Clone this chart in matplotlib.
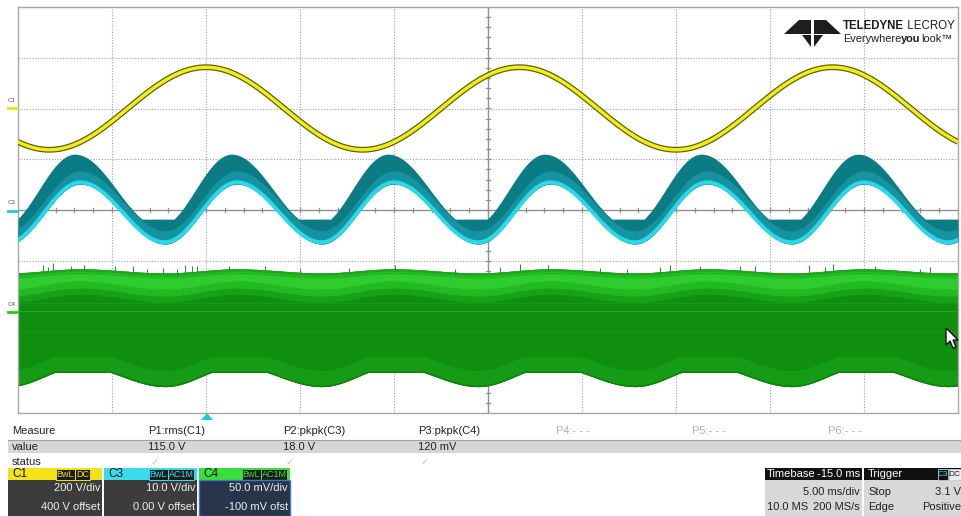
import numpy as np
import matplotlib
matplotlib.use("Agg")
import matplotlib.pyplot as plt
from matplotlib.patches import Rectangle, Polygon

# ---------------- scope settings ----------------
time_per_div_ms = 5.0
trigger_delay_ms = -15.0
n_div_x = 10
n_div_y = 8

# channel settings: C1 (V), C3 (V), C4 (mV)
c1_scale, c1_offset = 200.0, 400.0
c3_scale, c3_offset = 10.0, 0.0
c4_scale, c4_offset = 50.0, -100.0

# C1 : mains voltage
c1_rms_v = 115.0
c1_freq_hz = 60.0
c1_peak_ms = 0.0

# C3 : ripple envelope (V)
c3_freq_hz = 120.0
c3_peak_ms = 1.65
c3_fall_frac = 0.54
c3_lower_mid, c3_lower_amp = -0.8, 5.9
c3_upper_mid, c3_upper_amp = 3.9, 7.1
c3_upper_floor = -1.8
c3_upper_lead_ms = 0.3

# C4 : noise band envelope (mV)
c4_top_mid, c4_top_amp = 40.0, 2.0
c4_bot_mid, c4_bot_amp = -64.3, 9.7
c4_bot_cap = -60.0
c4_light_mid, c4_light_amp = 19.0, 4.0

# spikes on top of the C4 band (ms, mV above the band)
c4_spike_t = [-8.67, -8.4, -8.14, -7.2, -6.5, -4.84, -3.88, -3.14, -2.29, -1.54, -1.12, -0.74,
              -0.48, 1.2, 3.14, 5.0, 7.6, 10.05, 13.24, 15.64, 16.7, 18.19, 20.96, 22.4, 24.15,
              24.68, 26.3, 28.4, 29.2, 32.1, 32.9, 33.35, 35.6, 37.98, 38.5]
c4_spike_h = [6, 4, 7, 3, 4, 4, 6, 3, 5, 4, 7, 6,
              5, 3, 4, 3, 4, 4, 3, 5, 6, 4, 3, 4, 5,
              6, 3, 4, 5, 7, 4, 6, 3, 3, 5]

# measurement table
meas_headers = ["Measure", "P1:rms(C1)", "P2:pkpk(C3)", "P3:pkpk(C4)", "P4:- - -", "P5:- - -", "P6:- - -"]
meas_values = ["value", "115.0 V", "18.0 V", "120 mV", "", "", ""]

# channel descriptor boxes
ch_labels = ["C1", "C3", "C4"]
ch_coupling = ["DC", "AC1M", "AC1M"]
ch_vdiv = ["200 V/div", "10.0 V/div", "50.0 mV/div"]
ch_offs = ["400 V offset", "0.00 V offset", "-100 mV ofst"]

timebase_lines = ["Timebase", "-15.0 ms", "5.00 ms/div", "10.0 MS", "200 MS/s"]
trigger_lines = ["Trigger", "Stop", "3.1 V", "Edge", "Positive"]

FONT = ["Liberation Sans", "DejaVu Sans"]

# ---------------- figure ----------------
W, H = 961, 516
fig = plt.figure(figsize=(W / 100, H / 100), dpi=100)
fig.patch.set_facecolor("white")
renderer = fig.canvas.get_renderer()
L, R, T, B = 18, 958, 7, 413
ax = fig.add_axes([L / W, 1 - B / H, (R - L) / W, (B - T) / H])
t_center = -trigger_delay_ms
x0 = t_center - n_div_x / 2 * time_per_div_ms
x1 = t_center + n_div_x / 2 * time_per_div_ms
ax.set_xlim(x0, x1)
ax.set_ylim(-n_div_y / 2, n_div_y / 2)
ax.set_xticks([]); ax.set_yticks([])
for s in ax.spines.values():
    s.set_color("#a8a8a8"); s.set_linewidth(1.0)

# grid
grid_kw = dict(color="#a0a0a0", lw=0.8, ls=(0, (1, 1.5)), zorder=1)
for i in range(1, n_div_x):
    if i != n_div_x // 2:
        ax.axvline(x0 + i * time_per_div_ms, **grid_kw)
for j in range(-n_div_y // 2 + 1, n_div_y // 2):
    if j != 0:
        ax.axhline(j, **grid_kw)
ax.axvline(t_center, color="#909090", lw=1.0, zorder=1)
ax.axhline(0, color="#909090", lw=1.0, zorder=1)
for k in np.arange(x0, x1 + 0.01, 1.0):
    ax.plot([k, k], [-0.04, 0.04], color="#909090", lw=0.9, zorder=1)
for k in np.arange(-4, 4.01, 0.2):
    ax.plot([t_center - 0.1, t_center + 0.1], [k, k], color="#909090", lw=0.9, zorder=1)

t = np.linspace(x0, x1, 6000)


def skew_wave(tt, f_hz, peak_ms, fall):
    p = np.mod((tt - peak_ms) * f_hz / 1000.0, 1.0)
    return np.where(p < fall, np.cos(np.pi * p / fall),
                    np.cos(np.pi + np.pi * (p - fall) / (1 - fall)))


# C4 green band
w4 = skew_wave(t, c3_freq_hz, c3_peak_ms, c3_fall_frac)
top4 = c4_top_mid + c4_top_amp * w4
bot4 = np.minimum(c4_bot_cap, c4_bot_mid + c4_bot_amp * w4)
light4 = c4_light_mid + c4_light_amp * w4
d4 = lambda v: (v + c4_offset) / c4_scale
ax.fill_between(t, d4(bot4), d4(top4), color="#108e10", lw=0, zorder=2)
ax.fill_between(t, d4(bot4 + 16), d4(bot4), color="#159b15", lw=0, zorder=2)
ax.fill_between(t, d4(bot4 + 1.5), d4(bot4), color="#0d820d", lw=0, zorder=2)
ax.fill_between(t, d4(light4 - 6), d4(light4), color="#16a116", lw=0, zorder=2)
ax.fill_between(t, d4(light4), d4(top4), color="#22b922", lw=0, zorder=2)
ax.fill_between(t, d4(light4 + 7), d4(top4 - 5), color="#2fcc2f", lw=0, zorder=2)
ax.fill_between(t, d4(top4 - 2), d4(top4), color="#1ea41e", lw=0, zorder=2)
ax.plot(t, d4(np.zeros_like(t)), color="#1aaa1a", lw=0.8, zorder=2)
ax.plot(t, d4(np.full_like(t, -20.0)), color="#15a015", lw=0.6, zorder=2)
ax.plot(t, d4(np.full_like(t, 8.0)), color="#14a014", lw=0.6, zorder=2)
sp_t = np.array(c4_spike_t)
sp_base = c4_top_mid + c4_top_amp * skew_wave(sp_t, c3_freq_hz, c3_peak_ms, c3_fall_frac)
ax.vlines(sp_t, d4(sp_base - 2), d4(sp_base + np.array(c4_spike_h)), color="#3a8a3a", lw=0.8, zorder=2)

# C3 cyan band
w3 = skew_wave(t, c3_freq_hz, c3_peak_ms, c3_fall_frac)
w3u = skew_wave(t, c3_freq_hz, c3_peak_ms - c3_upper_lead_ms, c3_fall_frac)
low3 = c3_lower_mid + c3_lower_amp * w3
up3 = np.maximum(c3_upper_floor, c3_upper_mid + c3_upper_amp * w3u)
d3 = lambda v: (v + c3_offset) / c3_scale
ax.fill_between(t, d3(low3), d3(up3), color="#0c7c84", lw=0, zorder=3)
ax.fill_between(t, d3(low3), d3(np.minimum(up3, low3 + 2.6)), color="#1693a0", lw=0, zorder=3)
ax.plot(t, d3(low3 + 0.35), color="#2ad8ea", lw=2.8, zorder=3)

# C1 yellow trace
v1 = np.sqrt(2) * c1_rms_v * np.cos(2 * np.pi * c1_freq_hz * (t - c1_peak_ms) / 1000.0)
d1 = lambda v: (v + c1_offset) / c1_scale
ax.plot(t, d1(v1), color="#5e5a00", lw=4.2, zorder=4, solid_capstyle="butt")
ax.plot(t, d1(v1), color="#eeee1a", lw=2.5, zorder=4)

# ---------------- overlay in pixel coordinates ----------------
ov = fig.add_axes([0, 0, 1, 1], zorder=5)
ov.set_xlim(0, W); ov.set_ylim(H, 0); ov.axis("off")
ov.patch.set_alpha(0)


def text_run(x, y, parts, width, color, base=10.0):
    """Place consecutive text pieces starting at x so that the run spans `width` pixels."""
    objs, widths = [], []
    for s, wt in parts:
        o = ov.text(0, y, s, fontsize=base, weight=wt, color=color, va="center", family=FONT)
        widths.append(o.get_window_extent(renderer).width)
        objs.append(o)
    scale = width / sum(widths)
    xx = x
    for o, w_ in zip(objs, widths):
        o.set_fontsize(base * scale)
        o.set_x(xx)
        xx += w_ * scale


# channel markers at the left
for lab, y, col in [("C1", 108, "#e6e600"), ("C3", 211, "#22c8dc"), ("C4", 312, "#22cc22")]:
    ov.text(12, y - 8, lab, fontsize=4.5, color="#555555", ha="center", va="center", family=FONT)
    ov.plot([8, 17], [y, y], color=col, lw=2.0)

# trigger marker
ov.add_patch(Polygon([[201, 420], [213, 420], [207, 413]], closed=True, color="#22c8dc", lw=0))

# mouse cursor
cx, cy = 946, 328
cur = np.array([[0, 0], [0, 17], [4, 13], [7, 20], [10, 19], [7, 12], [12, 12]]) * 1.0
ov.add_patch(Polygon(cur + [cx, cy], closed=True, facecolor="white", edgecolor="black", lw=0.9))

# logo emblem
k = "#1e1e1e"
ov.add_patch(Polygon([[784, 34], [799, 20], [811, 20], [811, 34]], closed=True, color=k, lw=0))
ov.add_patch(Polygon([[841, 34], [826, 20], [814, 20], [814, 34]], closed=True, color=k, lw=0))
ov.add_patch(Polygon([[802, 35], [811, 35], [811, 47]], closed=True, color=k, lw=0))
ov.add_patch(Polygon([[823, 35], [814, 35], [814, 47]], closed=True, color=k, lw=0))
text_run(843, 26, [("TELEDYNE", "bold"), (" LECROY", "normal")], 112, k)
text_run(843, 38.5, [("Everywhere", "normal"), ("you", "bold"), ("look\u2122", "normal")], 109, k)

# measurement table
fs = 8
col_x = [12, 148, 283, 418, 556, 692, 828]
ov.add_patch(Rectangle((8, 440), W - 8, 13, color="#d6d6d6", lw=0))
ov.plot([8, W], [439.5, 439.5], color="#a0a0a0", lw=0.8)
for i, (hd, vl) in enumerate(zip(meas_headers, meas_values)):
    c = "#222222" if i < 4 else "#b0b0b0"
    ov.text(col_x[i], 431, hd, fontsize=fs, color=c, va="center", family=FONT)
    if vl:
        ov.text(col_x[i], 446.5, vl, fontsize=fs, color="#222222", va="center", family=FONT)
ov.text(12, 462, "status", fontsize=fs, color="#222222", va="center", family=FONT)
for xx in col_x[1:4]:
    ov.text(xx + 3, 462, "\u2713", fontsize=7, color="#c4c4c4", va="center", family=["DejaVu Sans"])

# channel boxes
boxes = [(8, 102, "#f2e21a", "#3c3c3c"), (104, 197, "#3adcec", "#3c3c3c"), (199, 290, "#3ae03a", "#27344a")]
for (bx0, bx1, hc, bc), lab, cp, vd, of in zip(boxes, ch_labels, ch_coupling, ch_vdiv, ch_offs):
    ov.add_patch(Rectangle((bx0, 468), bx1 - bx0, 12, color=hc, lw=0))
    ov.add_patch(Rectangle((bx0, 480), bx1 - bx0, 36, color=bc, lw=0))
    ov.text(bx0 + 4, 474, lab, fontsize=8.5, color="#111111", va="center", family=FONT)
    cw = 15 if cp == "DC" else 26
    right = bx1 - (12 if cp == "DC" else 3)
    ov.add_patch(Rectangle((right - cw, 469), cw, 10.5, facecolor="#1c1c1c", edgecolor=hc, lw=0.7))
    ov.text(right - cw / 2, 474.3, cp, fontsize=6.5, color=hc, ha="center", va="center", family=FONT)
    ov.add_patch(Rectangle((right - cw - 19.5, 469), 19, 10.5, facecolor="#1c1c1c", edgecolor=hc, lw=0.7))
    ov.text(right - cw - 10, 474.3, "BwL", fontsize=6.5, color=hc, ha="center", va="center", family=FONT)
    ov.text(bx1 - 2, 488, vd, fontsize=fs, color="#eeeeee", ha="right", va="center", family=FONT)
    ov.text(bx1 - 2, 507, of, fontsize=fs, color="#eeeeee", ha="right", va="center", family=FONT)
ov.add_patch(Rectangle((199, 480), 91, 35.5, facecolor="none", edgecolor="#3a78c8", lw=1.0))

# timebase box
ov.add_patch(Rectangle((765, 468), 97, 12, color="#111111", lw=0))
ov.add_patch(Rectangle((765, 480), 97, 36, color="#d8d8d8", lw=0))
ov.text(767, 474, timebase_lines[0], fontsize=fs, color="white", va="center", family=FONT)
ov.text(860, 474, timebase_lines[1], fontsize=fs, color="white", ha="right", va="center", family=FONT)
ov.text(860, 492, timebase_lines[2], fontsize=fs, color="#222222", ha="right", va="center", family=FONT)
ov.text(767, 507, timebase_lines[3], fontsize=fs, color="#222222", va="center", family=FONT)
ov.text(860, 507, timebase_lines[4], fontsize=fs, color="#222222", ha="right", va="center", family=FONT)

# trigger box
ov.add_patch(Rectangle((864, 468), 97, 12, color="#111111", lw=0))
ov.add_patch(Rectangle((864, 480), 97, 36, color="#d8d8d8", lw=0))
ov.text(868, 474, trigger_lines[0], fontsize=fs, color="white", va="center", family=FONT)
ov.add_patch(Rectangle((938, 469), 10, 10.5, facecolor="#111111", edgecolor="#cccccc", lw=0.6))
ov.text(943, 474.3, "C3", fontsize=6, color="#3adcec", ha="center", va="center", family=FONT)
ov.add_patch(Rectangle((948.5, 469), 12.5, 10.5, facecolor="#eeeeee", edgecolor="#cccccc", lw=0.6))
ov.text(954.8, 474.3, "DC", fontsize=6, color="#111111", ha="center", va="center", family=FONT)
ov.text(868, 492, trigger_lines[1], fontsize=fs, color="#222222", va="center", family=FONT)
ov.text(961, 492, trigger_lines[2], fontsize=fs, color="#222222", ha="right", va="center", family=FONT)
ov.text(868, 507, trigger_lines[3], fontsize=fs, color="#222222", va="center", family=FONT)
ov.text(961, 507, trigger_lines[4], fontsize=fs, color="#222222", ha="right", va="center", family=FONT)

fig.savefig("out.png", dpi=100)
